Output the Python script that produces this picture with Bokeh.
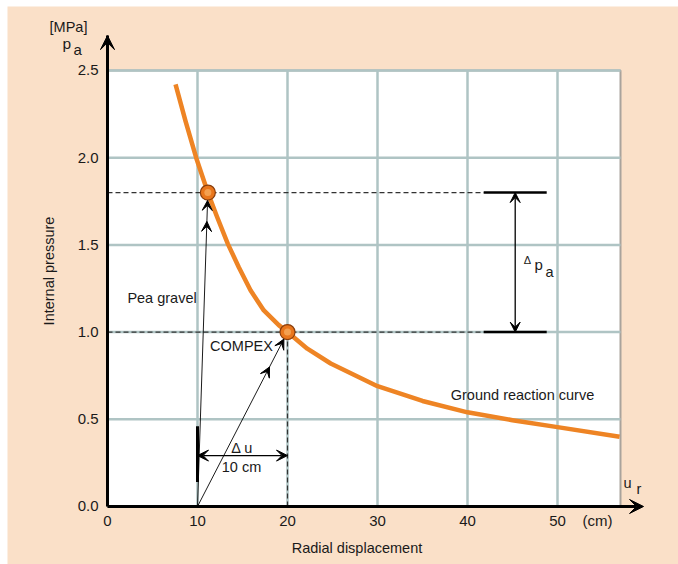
from bokeh.plotting import figure
from bokeh.models import Range1d, FixedTicker, NumeralTickFormatter, Label, Arrow, VeeHead
from bokeh.embed import file_html
from bokeh.resources import INLINE

# ---------------- data ----------------
curve_u = [7.56, 8.67, 9.85, 11.15, 12.18, 13.37, 14.59, 15.89, 17.37, 19.03, 20.0,
           22.2, 24.8, 30.0, 35.0, 40.0, 45.0, 50.0, 56.9]
curve_p = [2.42, 2.21, 2.00, 1.80, 1.66, 1.506, 1.372, 1.24, 1.124, 1.04, 1.00,
           0.905, 0.82, 0.69, 0.605, 0.54, 0.495, 0.455, 0.40]

point_u = [11.15, 20.0]    # pea gravel, COMPEX
point_p = [1.8, 1.0]
u_install = 10.0           # displacement at support installation
bar_p = [0.14, 0.46]       # thick marker at installation

x_ticks = [0, 10, 20, 30, 40, 50]
y_ticks = [0.0, 0.5, 1.0, 1.5, 2.0, 2.5]
x_max = 57.0
y_max = 2.5

# ---------------- style ----------------
FONT = "Liberation Sans"
BEIGE = "#fae0c8"
GRID = "#afc4c4"
ORANGE = "#ee8424"
TXT = "#1a1a1a"

X_TIP = 59.56
Y_TIP = 2.70

p = figure(width=671, height=558,
           x_range=Range1d(-11.111, 63.444), y_range=Range1d(-0.33257, 2.86697),
           output_backend="svg", toolbar_location=None, title=None)
p.margin = (6, 0, 0, 7)
p.min_border = 0
p.background_fill_color = BEIGE
p.border_fill_color = BEIGE
p.outline_line_color = None
p.xgrid.visible = False
p.ygrid.visible = False

# axes (drawn at the origin inside the frame)
for ax in (p.xaxis[0], p.yaxis[0]):
    ax.fixed_location = 0
    ax.axis_line_width = 3
    ax.axis_line_color = "black"
    ax.major_tick_line_color = None
    ax.minor_tick_line_color = None
    ax.major_label_text_font = FONT
    ax.major_label_text_font_size = "15px"
    ax.major_label_text_color = TXT
    ax.axis_label_text_font = FONT
    ax.axis_label_text_font_size = "14.5px"
    ax.axis_label_text_font_style = "normal"
    ax.axis_label_text_color = TXT

p.xaxis.ticker = FixedTicker(ticks=x_ticks)
p.xaxis.bounds = (0, 55.4)
p.xaxis.major_label_standoff = 4
p.xaxis.axis_label = "Radial displacement"
p.xaxis.axis_label_standoff = 10

p.yaxis.ticker = FixedTicker(ticks=y_ticks)
p.yaxis.formatter = NumeralTickFormatter(format="0.0")
p.yaxis.bounds = (0, Y_TIP)
p.yaxis.major_label_standoff = 3
p.yaxis.axis_label = "Internal pressure"
p.yaxis.axis_label_standoff = 18

# white plotting area
p.quad(left=0, right=x_max, bottom=0, top=y_max, fill_color="white",
       line_color="#a9a39c", line_width=2)

# grid lines inside the white area
gx = [t for t in x_ticks if t > 0]
gy = [t for t in y_ticks if t > 0]
p.segment(x0=gx, y0=[0] * len(gx), x1=gx, y1=[y_max] * len(gx), line_color=GRID, line_width=2.5)
p.segment(x0=[0] * len(gy), y0=gy, x1=[x_max] * len(gy), y1=gy, line_color=GRID, line_width=2.5)

# dashed reference lines
DASH_END = 41.8
SOLID_END = 48.8
p.segment(x0=[0, 0], y0=point_p, x1=[DASH_END] * 2, y1=point_p,
          line_color="#333333", line_width=1.2, line_dash="5 3")
p.segment(x0=[point_u[1]], y0=[0], x1=[point_u[1]], y1=[point_p[1]],
          line_color="#333333", line_width=1.2, line_dash="5 3")
p.segment(x0=[DASH_END] * 2, y0=point_p, x1=[SOLID_END] * 2, y1=point_p,
          line_color="black", line_width=2.5)

# thick installation marker
p.segment(x0=[u_install], y0=[bar_p[0]], x1=[u_install], y1=[bar_p[1]],
          line_color="black", line_width=3)

# ground reaction curve
p.line(curve_u, curve_p, line_color=ORANGE, line_width=4.5, line_join="round")


def vee(size):
    return VeeHead(size=size, fill_color="black", line_color="black", line_width=1)


# support arrows (double arrow heads)
for (pu, pp, t1, t2) in [(point_u[0], point_p[0], 0.975, 0.908), (point_u[1], point_p[1], 0.96, 0.80)]:
    p.add_layout(Arrow(x_start=u_install, y_start=0,
                       x_end=u_install + t1 * (pu - u_install), y_end=t1 * pp,
                       line_color="black", line_width=0.9, end=vee(10)))
    p.add_layout(Arrow(x_start=u_install + (t2 - 0.02) * (pu - u_install), y_start=(t2 - 0.02) * pp,
                       x_end=u_install + t2 * (pu - u_install), y_end=t2 * pp,
                       line_color="black", line_width=0.9, end=vee(10)))

# points
p.scatter(point_u, point_p, size=15, fill_color="#e9761c", line_color="#8a3e0c", line_width=1.2)
p.scatter(point_u, point_p, size=7, fill_color="#f6ab5e", line_color=None, fill_alpha=0.8)

# delta p arrow
DP_X = 45.3
p.add_layout(Arrow(x_start=DP_X, y_start=point_p[1], x_end=DP_X, y_end=point_p[0],
                   line_color="black", line_width=1.3, start=vee(10), end=vee(10)))
# delta u arrow
DU_Y = 0.292
p.add_layout(Arrow(x_start=u_install, y_start=DU_Y, x_end=point_u[1], y_end=DU_Y,
                   line_color="black", line_width=1.3, start=vee(11), end=vee(11)))

# axis arrows
p.add_layout(Arrow(x_start=55.0, y_start=0, x_end=X_TIP, y_end=0,
                   line_color="black", line_width=3, end=vee(14)))
p.add_layout(Arrow(x_start=0, y_start=2.6, x_end=0, y_end=Y_TIP,
                   line_color="black", line_width=3, end=vee(14)))


def lab(x, y, text, size="14.5px", align="center", baseline="middle"):
    p.add_layout(Label(x=x, y=y, text=text, text_font=FONT, text_font_size=size,
                       text_color=TXT, text_align=align, text_baseline=baseline))


lab(6.06, 1.193, "Pea gravel")
lab(14.89, 0.923, "COMPEX")
lab(14.97, 0.338, "\u0394 u")
lab(14.89, 0.224, "10 cm")
lab(46.11, 0.642, "Ground reaction curve")
# delta p_a
lab(46.26, 1.415, "\u0394", size="11px", align="left", baseline="alphabetic")
lab(47.44, 1.39, "p", size="15px", align="left", baseline="alphabetic")
lab(48.67, 1.346, "a", size="14.5px", align="left", baseline="alphabetic")
# u_r
lab(57.33, 0.132, "u", size="14.5px", align="left", baseline="alphabetic")
lab(58.78, 0.0975, "r", size="14.5px", align="left", baseline="alphabetic")
# units
lab(-6.44, 2.749, "[MPa]", size="14.5px", align="left", baseline="alphabetic")
lab(-5.0, 2.657, "p", size="15.5px", align="left", baseline="alphabetic")
lab(-3.78, 2.620, "a", size="15px", align="left", baseline="alphabetic")
lab(52.78, -0.081, "(cm)", size="15px", align="left", baseline="alphabetic")

open("out.html", "w").write(file_html(p, INLINE))
